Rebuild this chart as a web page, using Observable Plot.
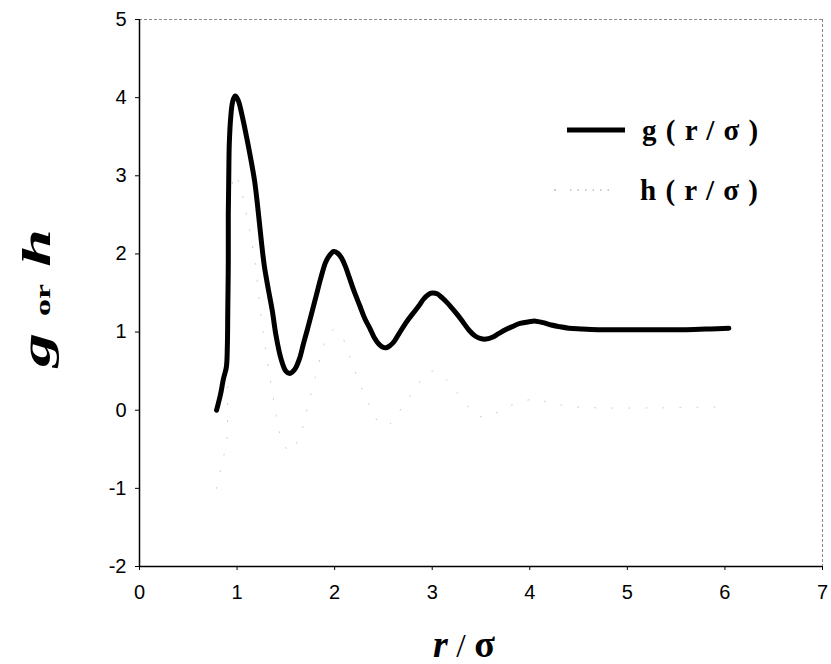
<!DOCTYPE html>
<html>
<head>
<meta charset="utf-8">
<script src="https://cdn.jsdelivr.net/npm/d3@7"></script>
<script src="https://cdn.jsdelivr.net/npm/@observablehq/plot@0.6"></script>
<style>
  html, body { margin: 0; padding: 0; background: white; }
  #chart svg { display: block; }
</style>
</head>
<body>
<div id="chart"></div>
<script>
// g(r/σ) curve
const gX = [0.79, 0.83, 0.86, 0.89, 0.90, 0.905, 0.91, 0.91, 0.915, 0.92, 0.935, 0.955, 0.98, 1.01, 1.05, 1.10, 1.14, 1.18, 1.21, 1.25, 1.28, 1.32, 1.36, 1.40, 1.45, 1.50, 1.54, 1.59, 1.64, 1.68, 1.72, 1.76, 1.81, 1.86, 1.91, 1.96, 1.99, 2.03, 2.07, 2.11, 2.15, 2.20, 2.26, 2.31, 2.36, 2.41, 2.45, 2.49, 2.53, 2.57, 2.61, 2.66, 2.71, 2.76, 2.81, 2.86, 2.91, 2.96, 3.00, 3.05, 3.10, 3.15, 3.20, 3.26, 3.32, 3.38, 3.44, 3.49, 3.55, 3.61, 3.68, 3.75, 3.82, 3.90, 3.98, 4.06, 4.14, 4.22, 4.30, 4.40, 4.52, 4.70, 5.00, 5.30, 5.60, 5.85, 6.04];
const gY = [0.00, 0.20, 0.40, 0.55, 0.80, 1.30, 1.90, 2.50, 3.00, 3.40, 3.75, 3.95, 4.02, 3.97, 3.78, 3.48, 3.22, 2.93, 2.62, 2.15, 1.84, 1.55, 1.28, 0.95, 0.66, 0.50, 0.47, 0.52, 0.66, 0.85, 1.03, 1.22, 1.46, 1.70, 1.90, 2.00, 2.03, 2.01, 1.95, 1.84, 1.70, 1.52, 1.33, 1.17, 1.05, 0.92, 0.85, 0.81, 0.80, 0.83, 0.88, 0.98, 1.08, 1.17, 1.25, 1.33, 1.42, 1.48, 1.50, 1.49, 1.44, 1.38, 1.31, 1.22, 1.12, 1.02, 0.95, 0.92, 0.91, 0.93, 0.98, 1.03, 1.07, 1.11, 1.13, 1.14, 1.12, 1.09, 1.07, 1.05, 1.04, 1.03, 1.03, 1.03, 1.03, 1.04, 1.05];

// h(r/σ) curve (very faint dotted in the picture)
const hX = [0.79, 0.86, 0.89, 0.905, 0.91, 0.915, 0.935, 0.98, 1.05, 1.10, 1.18, 1.25, 1.32, 1.40, 1.45, 1.54, 1.64, 1.72, 1.81, 1.91, 1.99, 2.07, 2.15, 2.26, 2.36, 2.45, 2.53, 2.61, 2.71, 2.81, 2.91, 3.00, 3.10, 3.20, 3.32, 3.44, 3.55, 3.68, 3.82, 3.98, 4.06, 4.22, 4.40, 4.70, 5.30, 5.85, 6.04];
const hY = [-1.00, -0.60, -0.45, 0.30, 0.90, 2.00, 2.75, 3.02, 2.78, 2.48, 1.93, 1.15, 0.55, -0.05, -0.34, -0.53, -0.34, 0.03, 0.46, 0.90, 1.03, 0.95, 0.70, 0.33, 0.05, -0.15, -0.20, -0.12, 0.08, 0.25, 0.42, 0.50, 0.44, 0.31, 0.12, -0.05, -0.09, -0.02, 0.07, 0.13, 0.14, 0.09, 0.05, 0.03, 0.03, 0.04, 0.04];

const xTicks = [0, 1, 2, 3, 4, 5, 6, 7];
const yTicks = [-2, -1, 0, 1, 2, 3, 4, 5];

const gData = gX.map((x, i) => ({x, y: gY[i]}));
const hData = hX.map((x, i) => ({x, y: hY[i]}));

const W = 831, H = 664;
const serif = "'Liberation Serif', 'Times New Roman', Times, serif";

const svg = Plot.plot({
  width: W,
  height: H,
  marginLeft: 139,
  marginRight: 9,
  marginTop: 19,
  marginBottom: 98,
  x: {domain: [0, 7]},
  y: {domain: [-2, 5]},
  style: {fontFamily: "'Liberation Sans', Arial, sans-serif", fontSize: "20px", background: "white", color: "black"},
  marks: [
    Plot.ruleX([7], {stroke: "#888", strokeWidth: 1, strokeDasharray: "3,2"}),
    Plot.ruleY([5], {stroke: "#888", strokeWidth: 1, strokeDasharray: "3,2"}),
    Plot.ruleX([0], {stroke: "black", strokeWidth: 1.5}),
    Plot.ruleY([-2], {stroke: "black", strokeWidth: 1.5}),
    Plot.axisX({ticks: xTicks, tickSize: 4, tickPadding: 14, label: null, tickFormat: d => String(d)}),
    Plot.axisY({ticks: yTicks, tickSize: 4, tickPadding: 9, label: null, tickFormat: d => String(d)}),
    Plot.line(hData, {x: "x", y: "y", stroke: "#c8c8c8", strokeWidth: 1, strokeDasharray: "1,16", curve: "catmull-rom"}),
    Plot.line(gData, {x: "x", y: "y", stroke: "black", strokeWidth: 5, curve: "catmull-rom", strokeLinecap: "round", strokeLinejoin: "round"})
  ]
});

const s = d3.select(svg);

// Legend
const leg = s.append("g");
leg.append("line").attr("x1", 567).attr("x2", 625).attr("y1", 130).attr("y2", 130)
  .attr("stroke", "black").attr("stroke-width", 5);
leg.append("text").attr("x", 642).attr("y", 140).attr("text-anchor", "start")
  .style("font-family", serif).style("font-weight", "bold").style("font-size", "29px")
  .style("letter-spacing", "1px").text("g ( r / σ )");
leg.append("circle").attr("cx", 555).attr("cy", 190).attr("r", 0.8).attr("fill", "#888");
leg.append("line").attr("x1", 570).attr("x2", 612).attr("y1", 190).attr("y2", 190)
  .attr("stroke", "#999").attr("stroke-width", 1).attr("stroke-dasharray", "1.5,6");
leg.append("text").attr("x", 640).attr("y", 200).attr("text-anchor", "start")
  .style("font-family", serif).style("font-weight", "bold").style("font-size", "29px")
  .style("letter-spacing", "1px").text("h ( r / σ )");

// Y axis label (stretched along its length like the scanned original)
const yl = s.append("text")
  .attr("transform", "translate(50,298) rotate(-90) scale(1.7,1)")
  .attr("text-anchor", "middle")
  .style("font-family", serif).style("font-weight", "bold");
yl.append("tspan").style("font-style", "italic").style("font-size", "40px").text("g");
yl.append("tspan").style("font-size", "40px").text(" ");
yl.append("tspan").style("font-size", "20px").text("or");
yl.append("tspan").style("font-size", "40px").text(" ");
yl.append("tspan").style("font-style", "italic").style("font-size", "40px").text("h");

// X axis label
const xl = s.append("text")
  .attr("x", 464).attr("y", 657)
  .attr("text-anchor", "middle")
  .style("font-family", serif).style("font-weight", "bold");
xl.append("tspan").style("font-style", "italic").style("font-size", "38px").text("r");
xl.append("tspan").style("font-size", "34px").style("font-weight", "normal").text(" / ");
xl.append("tspan").style("font-size", "38px").text("σ");

document.getElementById("chart").appendChild(svg);
</script>
</body>
</html>
